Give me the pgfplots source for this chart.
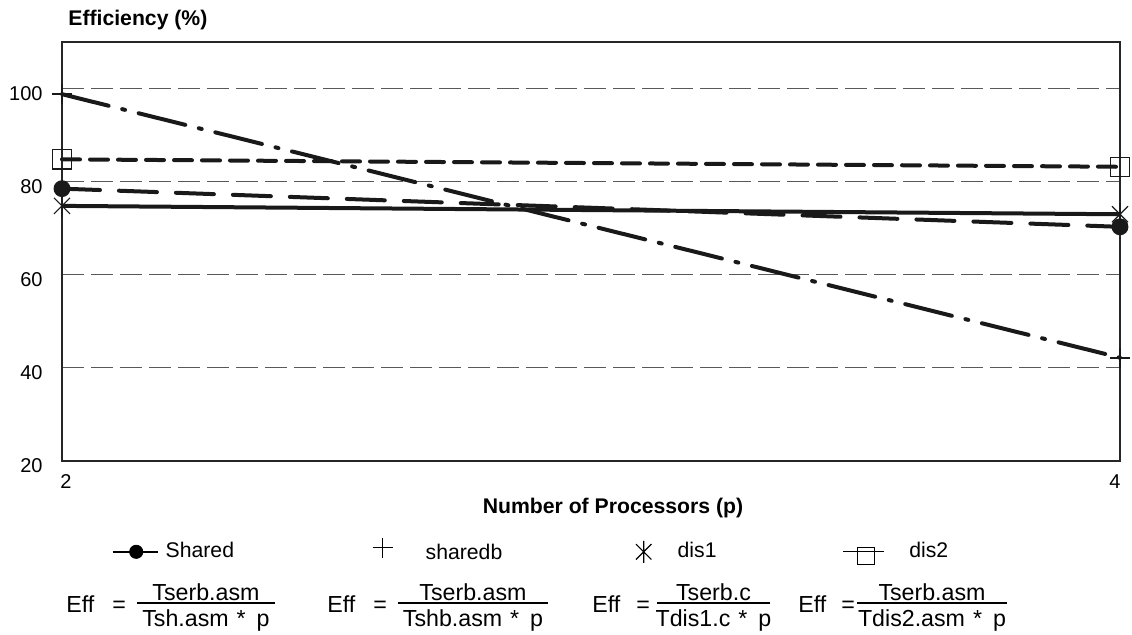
\documentclass[border=0pt]{standalone}
\usepackage{fontspec}
\setmainfont{Liberation Sans}
\usepackage{pgfplots}
\pgfplotsset{compat=1.18}

% asterisk made of a vertical stroke and two 45-degree diagonals
\pgfdeclareplotmark{vstar}{%
  \pgfpathmoveto{\pgfqpoint{0pt}{-\pgfplotmarksize}}%
  \pgfpathlineto{\pgfqpoint{0pt}{\pgfplotmarksize}}%
  \pgfpathmoveto{\pgfqpoint{-0.7\pgfplotmarksize}{-0.7\pgfplotmarksize}}%
  \pgfpathlineto{\pgfqpoint{0.7\pgfplotmarksize}{0.7\pgfplotmarksize}}%
  \pgfpathmoveto{\pgfqpoint{-0.7\pgfplotmarksize}{0.7\pgfplotmarksize}}%
  \pgfpathlineto{\pgfqpoint{0.7\pgfplotmarksize}{-0.7\pgfplotmarksize}}%
  \pgfusepathqstroke}
% plain cross-hair plus
\pgfdeclareplotmark{bigplus}{%
  \pgfpathmoveto{\pgfqpoint{0pt}{-\pgfplotmarksize}}%
  \pgfpathlineto{\pgfqpoint{0pt}{\pgfplotmarksize}}%
  \pgfpathmoveto{\pgfqpoint{-\pgfplotmarksize}{0pt}}%
  \pgfpathlineto{\pgfqpoint{\pgfplotmarksize}{0pt}}%
  \pgfusepathqstroke}

\pgfplotstableread{
p eff
2 78.5
4 70.3
}\shared
\pgfplotstableread{
p eff
2 98.8
4 42.2
}\sharedb
\pgfplotstableread{
p eff
2 74.8
4 73.0
}\disone
\pgfplotstableread{
p eff
2 84.8
4 83.2
}\distwo

\newcommand{\lfont}{\fontsize{10.6}{12}\selectfont}
\newcommand{\efont}{\fontsize{11.6}{13}\selectfont}

\begin{document}
\begin{tikzpicture}
\begin{axis}[
  scale only axis,
  width=529pt, height=209.5pt,
  xmin=2, xmax=4, ymin=20, ymax=110,
  xtick={2,4}, xticklabels={\hspace*{4pt}2, 4\hspace*{5pt}},
  ytick={20,40,60,80,100},
  major tick length=0pt,
  axis line style={line width=0.6pt, black!85},
  ymajorgrids,
  major grid style={line width=0.5pt, gray!70!black, dash pattern=on 11pt off 3.5pt},
  /pgf/number format/assume math mode=true,
  tick label style={font=\fontsize{10}{12}\selectfont},
  yticklabel style={anchor=east, inner sep=0pt, xshift=-9.5pt, yshift=-2.5pt},
  xticklabel style={anchor=north, inner sep=0pt, yshift=-6.5pt},
  title={Efficiency (\%)},
  title style={at={(axis description cs:0,1)}, anchor=base west, inner sep=0pt,
    xshift=3pt, yshift=2.5pt, font=\bfseries\lfont},
  xlabel={Number of Processors (p)},
  xlabel style={at={(axis description cs:0.5,0)}, anchor=base, inner sep=0pt,
    xshift=11pt, yshift=-26pt, font=\bfseries\lfont},
  clip=false,
  legend columns=4,
  legend cell align=left,
  legend style={draw=none, fill=none, inner sep=0pt, outer sep=0pt,
    column sep=0pt, row sep=0pt,
    at={(axis description cs:0,0)}, anchor=west, xshift=25pt, yshift=-45pt,
    nodes={inner sep=0pt, font=\lfont}},
]
% series
\addplot[forget plot, black!90, line width=2pt, line cap=round,
  dash pattern=on 19pt off 9.5pt,
  mark=*, mark size=3.2pt, mark options={solid}] table[x=p, y=eff] {\shared};
\addplot[forget plot, black!90, line width=2pt, line cap=round,
  dash pattern=on 24pt off 7pt on 1.5pt off 7pt,
  mark=bigplus, mark size=5pt, mark options={solid, line width=0.9pt, line cap=butt}] table[x=p, y=eff] {\sharedb};
\addplot[forget plot, black!90, line width=2pt,
  mark=vstar, mark size=5.75pt, mark options={solid, line width=0.6pt}] table[x=p, y=eff] {\disone};
\addplot[forget plot, black!90, line width=2pt, line cap=round,
  dash pattern=on 9pt off 5pt,
  mark=square, mark size=4.8pt, mark options={solid, line width=0.6pt, fill=white}] table[x=p, y=eff] {\distwo};

% legend entries
\addlegendimage{legend image code/.code={%
  \draw[line width=0.7pt, black] (0pt,0pt) -- (22.5pt,0pt);
  \draw[black, mark=*, mark size=3.3pt] plot coordinates {(11.75pt,0pt)};
  \path[draw=none, fill=none] (0pt,0pt) -- (26.5pt,0pt);}}
\addlegendentry{\makebox[103.5pt][l]{Shared}}
\addlegendimage{legend image code/.code={%
  \draw[black, line width=0.6pt, mark=bigplus, mark size=5pt] plot coordinates {(5pt,2pt)};
  \path[draw=none, fill=none] (0pt,0pt) -- (26.5pt,0pt);}}
\addlegendentry{\makebox[105pt][l]{\raisebox{-1.5pt}{sharedb}}}
\addlegendimage{legend image code/.code={%
  \draw[black, line width=0.6pt, mark=vstar, mark size=5.5pt] plot coordinates {(4pt,0pt)};
  \path[draw=none, fill=none] (0pt,0pt) -- (21pt,0pt);}}
\addlegendentry{\makebox[82.5pt][l]{dis1}}
\addlegendimage{legend image code/.code={%
  \draw[line width=0.6pt, black] (0pt,0pt) -- (20.5pt,0pt);
  \draw[black, line width=0.6pt, mark=square, mark size=4.2pt, mark options={fill=white}] plot coordinates {(11.5pt,-2pt)};
  \draw[line width=0.6pt, black] (7.3pt,0pt) -- (15.7pt,0pt);
  \path[draw=none, fill=none] (0pt,0pt) -- (33pt,0pt);}}
\addlegendentry{dis2}
\end{axis}

% efficiency definitions below the legend
\begin{scope}[shift={(current axis.south west)}, every node/.style={inner sep=0pt, font=\efont}]
  \foreach \ex/\qx/\bl/\br/\num/\den in {
      2pt/25pt/37.5pt/106.5pt/{Tserb.asm}/{Tsh.asm\hspace{4pt}*\hspace{5.5pt}p},
      132.5pt/155.5pt/168pt/243pt/{Tserb.asm}/{Tshb.asm\hspace{4pt}*\hspace{5.5pt}p},
      265pt/287pt/297.5pt/354pt/{Tserb.c}/{Tdis1.c\hspace{4pt}*\hspace{5.5pt}p},
      368pt/389.5pt/397.5pt/472.5pt/{Tserb.asm}/{Tdis2.asm\hspace{4pt}*\hspace{5.5pt}p}} {
    \node[anchor=base west] at (\ex,-75.5pt) {Eff};
    \node[anchor=base west] at (\qx,-75.5pt) {=};
    \draw[line width=0.6pt, black] (\bl,-71pt) -- (\br,-71pt);
    \path (\bl,0pt) -- (\br,0pt) coordinate[pos=0.5] (mid);
    \node[anchor=base] at (mid |- 0,-69.5pt) {\num};
    \node[anchor=base] at (mid |- 0,-82.5pt) {\den};
  }
\end{scope}

\pgfresetboundingbox
\path ([shift={(-31pt,-86.5pt)}]current axis.south west) rectangle ++(566pt,317pt);
\end{tikzpicture}
\end{document}
